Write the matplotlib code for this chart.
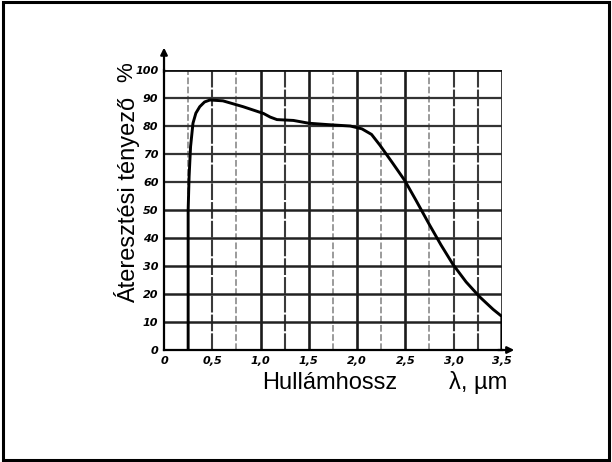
import numpy as np
import matplotlib.pyplot as plt

# Áteresztési görbe (leolvasott pontok)
hullamhossz = [0.25, 0.25, 0.26, 0.275, 0.30, 0.33, 0.37, 0.42, 0.476, 0.61,
               0.82, 1.03, 1.10, 1.17, 1.34, 1.50, 1.70, 1.93, 2.05, 2.15,
               2.236, 2.37, 2.495, 2.61, 2.754, 2.87, 2.995, 3.13, 3.27, 3.41,
               3.50, 3.50]
atereszt = [0, 50, 62, 72.6, 81, 84.6, 86.9, 88.6, 89.3, 89,
            86.9, 84.5, 83.2, 82.3, 82, 81, 80.5, 80, 79, 77,
            73.2, 66.7, 60.5, 53.5, 44.5, 37.5, 30.5, 24.3, 19, 14.5,
            12, 0]

x_ticks = [0, 0.5, 1.0, 1.5, 2.0, 2.5, 3.0, 3.5]
x_labels = ['0', '0,5', '1,0', '1,5', '2,0', '2,5', '3,0', '3,5']
y_ticks = [0, 10, 20, 30, 40, 50, 60, 70, 80, 90, 100]

plt.rcParams['font.family'] = ['Liberation Sans', 'DejaVu Sans']

fig = plt.figure(figsize=(6.12, 4.62), dpi=100)
ax = fig.add_axes([0.268, 0.2424, 0.552, 0.606])

# racsvonalak
vastag = [1.0, 1.5, 2.0, 2.5, 3.5]
kozep = [0.5, 1.25, 3.0, 3.25]
for v in np.arange(0.25, 3.51, 0.25):
    v = round(v, 2)
    if v in vastag:
        ax.axvline(v, color='#1a1a1a', lw=1.9)
    elif v in kozep:
        ax.axvline(v, color='#3a3a3a', lw=1.5, ls=(0, (8, 1)))
    else:
        ax.axvline(v, color='#8a8a8a', lw=1.2, ls=(0, (4, 1.5)))
for h in y_ticks[1:]:
    if h == 100:
        ax.axhline(h, color='#111111', lw=2.0)
    elif h <= 50:
        ax.axhline(h, color='#222222', lw=1.8)
    else:
        ax.axhline(h, color='#333333', lw=1.6)

ax.plot(hullamhossz, atereszt, color='black', lw=2.1, solid_joinstyle='round')

ax.set_xlim(0, 3.5)
ax.set_ylim(0, 100)
for s in ['top', 'right']:
    ax.spines[s].set_visible(False)
ax.spines['left'].set_linewidth(1.6)
ax.spines['bottom'].set_linewidth(1.6)

ax.set_xticks(x_ticks)
ax.set_xticklabels(x_labels, fontsize=8, style='italic', fontweight='bold',
                   family='DejaVu Sans')
ax.set_yticks(y_ticks)
ax.set_yticklabels([str(t) for t in y_ticks], fontsize=8, style='italic',
                   fontweight='bold', family='DejaVu Sans')
ax.tick_params(length=0, pad=4)

# tengely nyilak
ax.annotate('', xy=(0, 1.09), xytext=(0, 0.98), xycoords='axes fraction',
            arrowprops=dict(arrowstyle='-|>', color='black', lw=1.6,
                            mutation_scale=10))
ax.annotate('', xy=(1.045, 0), xytext=(0.98, 0), xycoords='axes fraction',
            arrowprops=dict(arrowstyle='-|>', color='black', lw=1.6,
                            mutation_scale=10))

fig.text(127 / 612, 1 - 200 / 462, 'Áteresztési tényező', rotation=90,
         ha='center', va='center', fontsize=17)
fig.text(127 / 612, 1 - 72 / 462, '%', rotation=90, ha='center', va='center',
         fontsize=16)
fig.text(330 / 612, 1 - 383 / 462, 'Hullámhossz', ha='center', va='center',
         fontsize=17)
fig.text(478 / 612, 1 - 383 / 462, 'λ, µm', ha='center', va='center',
         fontsize=17)

# keret
fig.patches.append(plt.Rectangle((0.005, 0.005), 0.99, 0.99, fill=False,
                                 lw=2.2, color='black',
                                 transform=fig.transFigure, figure=fig))

fig.savefig('out.png', dpi=100)
